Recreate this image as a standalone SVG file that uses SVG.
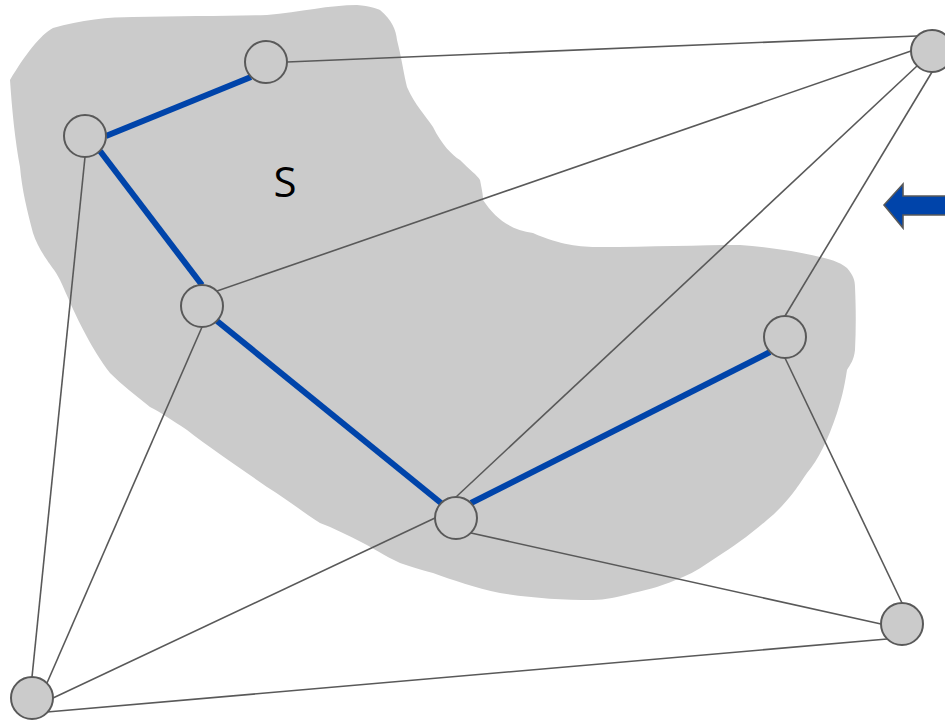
<svg xmlns="http://www.w3.org/2000/svg" width="945" height="721" viewBox="0 0 945 721">
<style>
.blob{fill:#cbcbcb;stroke:none}
.e{stroke:#595959;stroke-width:1.6;fill:none}
.p{stroke:#0044aa;stroke-width:6;fill:none}
.n{fill:#cbcbcb;stroke:#595959;stroke-width:2}
.lbl{font-family:"Open Sans","DejaVu Sans",sans-serif;font-size:42px;fill:#000}
</style>
<rect width="945" height="721" fill="#fff"/>
<path class="blob" d="M10,80 C25,55 40,35 53,28 C80,20 110,17 133,17 C180,16 230,16 267,15 C300,12 330,5 357,5 C370,6 378,9 380,10 C392,20 396,30 397,40 C402,60 404,75 407,87 C415,105 425,115 433,127 C442,145 452,155 460,160 C470,170 477,175 480,180 C482,190 483,195 483,200 C495,218 510,230 533,233 C560,245 580,247 600,247 C650,247 700,245 740,245 C770,247 800,252 820,257 C835,260 842,264 847,268 C853,275 855,280 855,287 C856,310 856,330 855,350 C854,360 850,365 847,370 C844,390 841,400 837,413 C828,440 818,460 807,473 C800,483 797,488 793,493 C785,503 777,512 767,520 C750,535 733,547 717,557 C705,565 695,572 683,577 C665,585 648,590 633,593 C618,597 605,600 593,600 C560,600 530,598 500,593 C475,588 453,580 433,573 C420,570 410,566 400,563 C385,556 373,548 363,543 C348,535 333,528 320,523 C300,510 285,498 267,487 C240,468 210,448 187,430 C172,420 160,412 150,407 C135,395 122,385 110,373 C100,360 93,348 87,337 C75,315 67,295 60,280 C55,270 50,265 47,260 C40,250 36,242 33,233 C27,210 22,190 20,167 C15,140 12,110 10,80 Z"/>
<text class="lbl" x="285" y="197" text-anchor="middle">S</text>
<g id="connectors">
<line class="e" x1="287" y1="62" x2="917" y2="36"/>
<line class="e" x1="217" y1="291" x2="911" y2="51"/>
<line class="e" x1="456" y1="497" x2="917" y2="66"/>
<line class="e" x1="785" y1="316" x2="932" y2="72"/>
<line class="e" x1="785" y1="358" x2="902" y2="603"/>
<line class="e" x1="471" y1="533" x2="881" y2="624"/>
<line class="e" x1="47" y1="712" x2="887" y2="639"/>
<line class="e" x1="85" y1="157" x2="32" y2="677"/>
<line class="e" x1="202" y1="327" x2="47" y2="683"/>
<line class="e" x1="435" y1="518" x2="53" y2="698"/>
<line class="p" x1="251" y1="77" x2="106" y2="136"/>
<line class="p" x1="100" y1="151" x2="202" y2="285"/>
<line class="p" x1="217" y1="321" x2="441" y2="503"/>
<line class="p" x1="471" y1="503" x2="770" y2="352"/>
</g>
<g id="nA"><circle class="n" cx="266" cy="62" r="21"/></g>
<g id="nB"><circle class="n" cx="85" cy="136" r="21"/></g>
<g id="nC"><circle class="n" cx="202" cy="306" r="21"/></g>
<g id="nD"><circle class="n" cx="456" cy="518" r="21"/></g>
<g id="nE"><circle class="n" cx="785" cy="337" r="21"/></g>
<g id="nF"><circle class="n" cx="932" cy="51" r="21"/></g>
<g id="nG"><circle class="n" cx="902" cy="624" r="21"/></g>
<g id="nH"><circle class="n" cx="32" cy="698" r="21"/></g>
<g id="arrow"><path d="M884,205 L903,184 L903,196 L950,196 L950,215 L903,215 L903,228 Z" fill="#0044aa" stroke="#595959" stroke-width="1.6" stroke-linejoin="miter"/></g>
</svg>
